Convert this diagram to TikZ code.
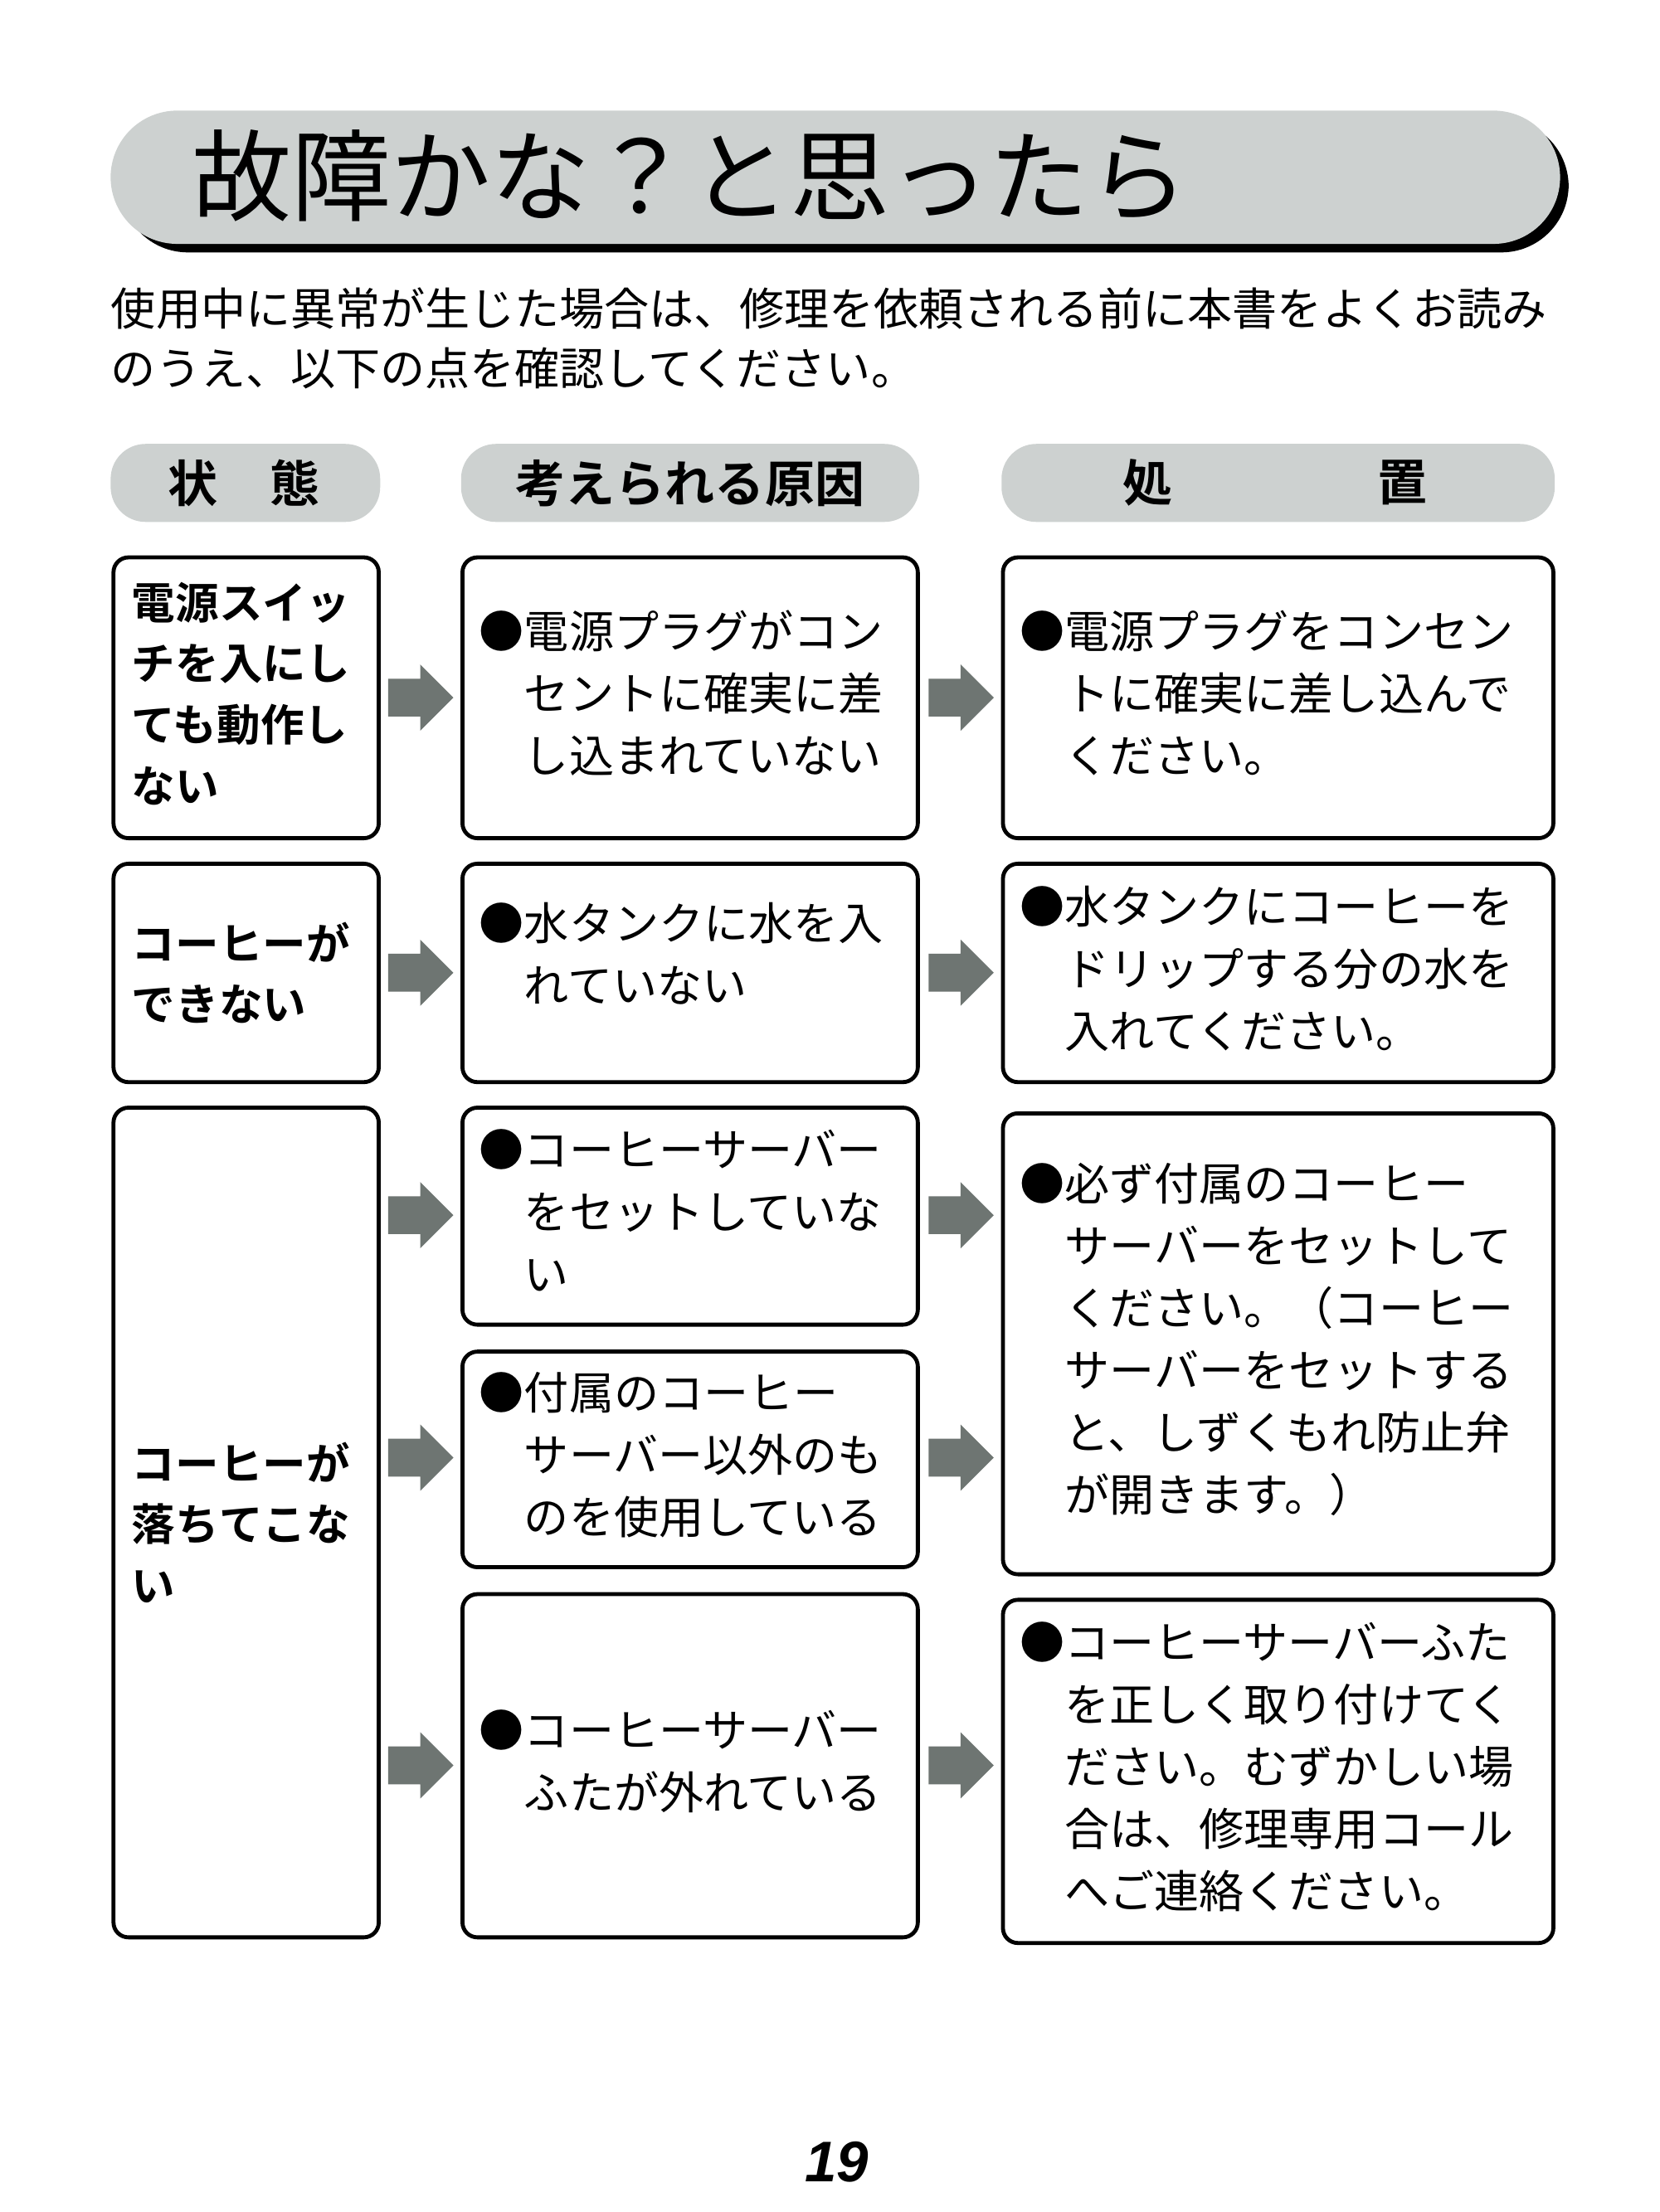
\documentclass[tikz,border=0pt]{standalone}
\usepackage{fontspec}
\setmainfont{Noto Sans CJK JP}[BoldFont={Noto Sans CJK JP Bold}]
\newfontfamily\numfont{Liberation Sans}
\usetikzlibrary{shapes.arrows,positioning}
\definecolor{bandgray}{RGB}{205,209,208}
\definecolor{arrowgray}{RGB}{110,117,114}
% box from corners given in page units (x right, y down)
\newcommand{\cell}[5]{%
  \node[cellbox, minimum width={0.02cm*(#4-#2)}, minimum height={0.02cm*(#5-#3)}]
    (#1) at ({0.02*(#2+#4)/2},{-0.02*(#3+#5)/2}) {};}
\newcommand{\headcell}[5]{%
  \node[headbox, minimum width={0.02cm*(#4-#2)}, minimum height={0.02cm*(#5-#3)}]
    (#1) at ({0.02*(#2+#4)/2},{-0.02*(#3+#5)/2}) {};}
\newcommand{\bul}[1]{●\begin{tabular}[t]{@{}l@{}}#1\end{tabular}}
\newcommand{\shaft}{\rule{0pt}{0.52cm}}
\begin{document}
\begin{tikzpicture}[
    cellbox/.style={rectangle, draw, line width=1.6pt, rounded corners=6pt, inner sep=0pt},
    headbox/.style={rectangle, fill=bandgray, rounded corners=14pt, inner sep=0pt},
    bodytext/.style={anchor=west, inner sep=0pt, align=left, font=\fontsize{18}{24.5}\selectfont},
    keytext/.style={anchor=west, inner sep=0pt, align=left, font=\fontsize{17.5}{24.5}\selectfont\bfseries},
    headtext/.style={inner sep=0pt, font=\fontsize{20}{24}\selectfont\bfseries},
    flow/.style={single arrow, fill=arrowgray, minimum height=0.92cm, minimum width=0.92cm,
                 single arrow head extend=0.2cm, single arrow head indent=0pt, inner sep=0pt}
]
    \useasboundingbox (0,0) rectangle (23.4,-31.2);
    \renewcommand{\arraystretch}{1.02}

    % Title band
    \fill[black, rounded corners=0.95cm] (1.70,-1.68) rectangle (22.12,-3.56);
    \node[rectangle, fill=bandgray, rounded corners=0.94cm, minimum width=20.44cm,
          minimum height=1.88cm, inner sep=0pt] (band) at (11.78,-2.50) {};
    \node[anchor=west, inner sep=0pt, font=\fontsize{40}{44}\selectfont] (title)
        at (2.70,-2.48) {故障かな？と思ったら};

    % Intro
    \node[anchor=north west, inner sep=0pt, align=left, font=\fontsize{18}{24}\selectfont] (intro)
        at (1.56,-4.05) {使用中に異常が生じた場合は、修理を依頼される前に本書をよくお読み\\のうえ、以下の点を確認してください。};

    % Headers
    \headcell{hstate}{78}{313}{268}{368}
    \headcell{hcause}{325}{313}{648}{368}
    \headcell{hfix}{706}{313}{1096}{368}
    \node[headtext] at (2.72,-6.81) {状};
    \node[headtext] at (4.16,-6.81) {態};
    \node[headtext] at (hcause) {考えられる原因};
    \node[headtext] at (16.18,-6.81) {処};
    \node[headtext] at (19.78,-6.81) {置};

    % Boxes
    \cell{s1}{80}{393}{267}{591}
    \cell{c1}{326}{393}{647}{591}
    \cell{f1}{707}{393}{1095}{591}
    \cell{s2}{80}{609}{267}{763}
    \cell{c2}{326}{609}{647}{763}
    \cell{f2}{707}{609}{1095}{763}
    \cell{s3}{80}{781}{267}{1366}
    \cell{c3}{326}{781}{647}{934}
    \cell{c4}{326}{953}{647}{1105}
    \cell{c5}{326}{1124}{647}{1366}
    \cell{f3}{707}{785}{1095}{1110}
    \cell{f4}{707}{1128}{1095}{1370}

    % Texts
    \node[keytext] (ts1) at ([xshift=0.28cm,yshift=0.06cm]s1.west) {電源スイッ\\チを入にし\\ても動作し\\ない};
    \node[keytext] (ts2) at ([xshift=0.28cm]s2.west) {コーヒーが\\できない};
    \node[keytext] (ts3) at ([xshift=0.28cm]s3.west) {コーヒーが\\落ちてこな\\い};
    \node[bodytext] (tc1) at ([xshift=0.26cm]c1.west) {\bul{電源プラグがコン\\セントに確実に差\\し込まれていない}};
    \node[bodytext] (tc2) at ([xshift=0.26cm,yshift=0.2cm]c2.west) {\bul{水タンクに水を入\\れていない}};
    \node[bodytext] (tc3) at ([xshift=0.26cm]c3.west) {\bul{コーヒーサーバー\\をセットしていな\\い}};
    \node[bodytext] (tc4) at ([xshift=0.26cm]c4.west) {\bul{付属のコーヒー\\サーバー以外のも\\のを使用している}};
    \node[bodytext] (tc5) at ([xshift=0.26cm]c5.west) {\bul{コーヒーサーバー\\ふたが外れている}};
    \node[bodytext] (tf1) at ([xshift=0.26cm]f1.west) {\bul{電源プラグをコンセン\\トに確実に差し込んで\\ください。}};
    \node[bodytext] (tf2) at ([xshift=0.26cm]f2.west) {\bul{水タンクにコーヒーを\\ドリップする分の水を\\入れてください。}};
    \node[bodytext] (tf3) at ([xshift=0.26cm]f3.west) {\bul{必ず付属のコーヒー\\サーバーをセットして\\ください。（コーヒー\\サーバーをセットする\\と、しずくもれ防止弁\\が開きます。）}};
    \node[bodytext] (tf4) at ([xshift=0.26cm]f4.west) {\bul{コーヒーサーバーふた\\を正しく取り付けてく\\ださい。むずかしい場\\合は、修理専用コール\\へご連絡ください。}};

    % Arrows
    \node[flow] (a1) at (5.80,-9.84) {\shaft};
    \node[flow] (a2) at (5.80,-13.72) {\shaft};
    \node[flow] (a3) at (5.80,-17.14) {\shaft};
    \node[flow] (a4) at (5.80,-20.56) {\shaft};
    \node[flow] (a5) at (5.80,-24.90) {\shaft};
    \node[flow] (b1) at (13.42,-9.84) {\shaft};
    \node[flow] (b2) at (13.42,-13.72) {\shaft};
    \node[flow] (b3) at (13.42,-17.14) {\shaft};
    \node[flow] (b4) at (13.42,-20.56) {\shaft};
    \node[flow] (b5) at (13.42,-24.90) {\shaft};

    % Page number
    \node[font=\fontsize{23}{26}\selectfont\numfont\bfseries\itshape] (page) at (11.80,-30.50) {19};
\end{tikzpicture}
\end{document}
